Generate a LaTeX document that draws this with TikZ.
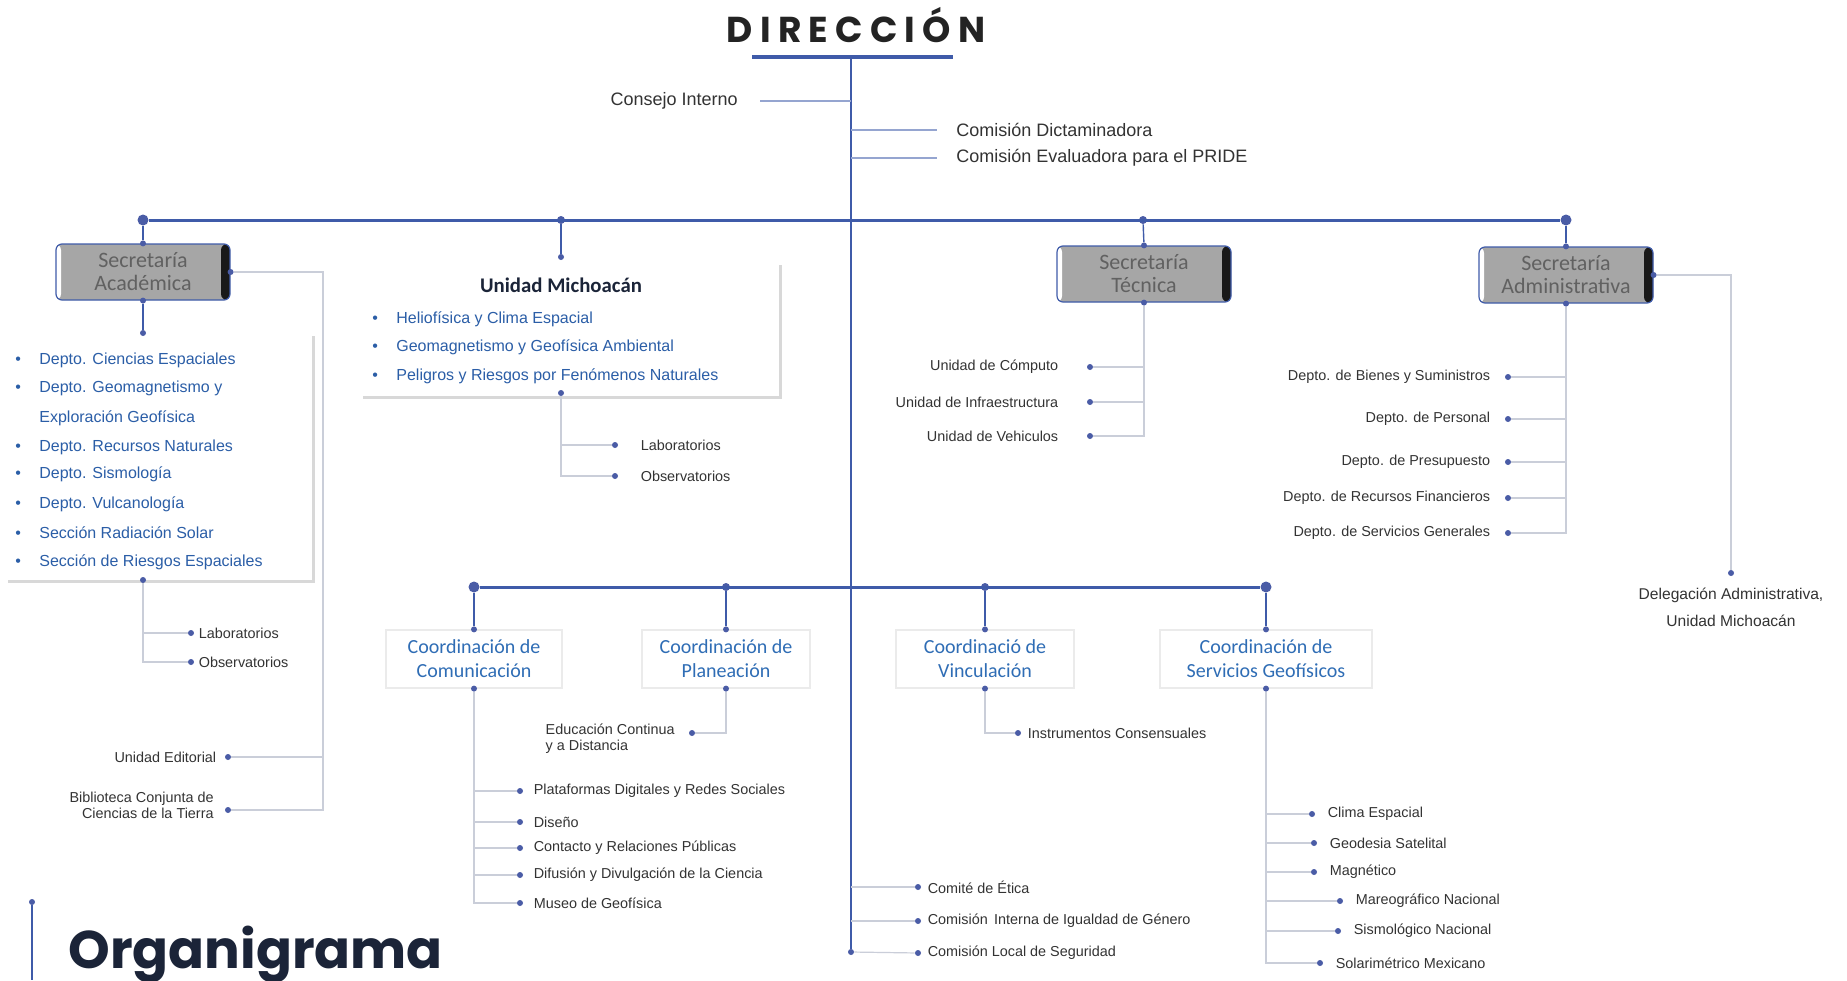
\documentclass[tikz,border=0pt]{standalone}
\usepackage{fontspec}
\setmainfont{Liberation Sans}
\newfontfamily\headfont{Carlito}
\newfontfamily\dirfont{Poppins}[LetterSpace=20]
\newfontfamily\orgfont{Poppins}
\usetikzlibrary{positioning,shadows}

\definecolor{lineblue}{HTML}{3F5BA9}
\definecolor{dotblue}{HTML}{4A5CA6}
\definecolor{paleline}{HTML}{CACED9}
\definecolor{itemblue}{HTML}{2B5EA7}
\definecolor{headblue}{HTML}{2F6DB5}
\definecolor{navy}{HTML}{1B2438}
\definecolor{titlegray}{HTML}{232323}
\definecolor{labelgray}{HTML}{333333}
\definecolor{boxgray}{HTML}{A6A6A6}

\newcommand{\bul}{\makebox[12pt][l]{\textbullet}}

\begin{document}
\begin{tikzpicture}[x=0.5pt, y=-0.5pt, inner sep=1pt,
    mainline/.style={lineblue, line width=1.5pt},
    spine/.style={lineblue, line width=0.9pt},
    stem/.style={lineblue, line width=0.7pt},
    branch/.style={lineblue!55, line width=0.6pt},
    subline/.style={paleline, line width=0.6pt},
    dot/.style={circle, fill=dotblue, inner sep=0pt, minimum size=3pt},
    bigdot/.style={circle, fill=dotblue, inner sep=0pt, minimum size=5.5pt},
    lbl/.style={text=labelgray, font=\fontsize{7.2}{8}\selectfont},
    biglbl/.style={text=labelgray, font=\fontsize{9}{10}\selectfont},
    itm/.style={text=itemblue, font=\fontsize{8}{9}\selectfont, anchor=west},
    secbox/.style={rectangle, rounded corners=3pt, draw=lineblue, line width=0.6pt,
        fill=boxgray, minimum width=87pt, minimum height=28pt, align=center,
        text=black!62, font=\headfont\fontsize{11}{11.5}\selectfont,
        path picture={
          \fill[black!90] ([xshift=-4.5pt]path picture bounding box.north east) rectangle (path picture bounding box.south east);
          \fill[white] (path picture bounding box.north west) rectangle ([xshift=2.5pt]path picture bounding box.south west);
        }},
    coordbox/.style={rectangle, draw=black!8, line width=0.6pt, fill=white,
        minimum height=29pt, align=center, text=headblue,
        font=\headfont\fontsize{10}{12}\selectfont},
    panel/.style={fill=white, inner sep=0pt,
        drop shadow={shadow xshift=1.3pt, shadow yshift=-1.3pt, fill=black!30, opacity=0.5}}
  ]
    \useasboundingbox[fill=white] (0,0) rectangle (1847,980);

    % title
    \node[font=\dirfont\bfseries\fontsize{18}{20}\selectfont, text=titlegray, anchor=base] (dir) at (856,42) {DIRECCIÓN};
    \coordinate (ul) at (752,57);
    \coordinate (ur) at (953,57);
    \draw[lineblue, line width=2.2pt] (ul) -- (ur);
    \coordinate (spinetop) at (851,57);
    \node[dot] (spbot) at (851,952) {};
    \draw[spine] (spinetop) -- (spbot);

    \node[biglbl, anchor=east] (consejo) at (740,101) {Consejo Interno};
    \node[biglbl, anchor=west] (dictam) at (954,130) {Comisión Dictaminadora};
    \node[biglbl, anchor=west] (pride) at (954,158) {Comisión Evaluadora para el PRIDE};
    \draw[branch] ([xshift=10pt]consejo.east) -- (consejo.east -| spinetop);
    \draw[branch] (dictam.west -| spinetop) -- ([xshift=-8.5pt]dictam.west);
    \draw[branch] (pride.west -| spinetop) -- ([xshift=-8.5pt]pride.west);

    % upper bar
    \node[bigdot] (tb1) at (143,220) {};
    \node[dot, minimum size=4pt] (tb2) at (561,220) {};
    \node[dot, minimum size=4pt] (tb3) at (1143,220) {};
    \node[bigdot] (tb4) at (1566,220) {};
    \draw[mainline] (tb1) -- (tb4);

    % Secretaria Academica
    \node[secbox] (acad) at (143,272) {Secretaría\\Académica};
    \node[dot] (acadn) at (acad.north) {};
    \node[dot] (acads) at (acad.south) {};
    \node[dot] (acade) at (acad.east) {};
    \draw[stem] (tb1) -- (acadn);

    \node[panel, minimum width=153.5pt, minimum height=123.5pt, anchor=north west] (acadlist) at (5,333) {};
    \node[dot] (acadtop) at (143,333) {};
    \node[dot] (acadbot) at (143,580) {};
    \draw[stem] (acads) -- (acadtop);
    \node[itm] (ac1) at (13,360) {\bul Depto. Ciencias Espaciales};
    \node[itm] (ac2) at (13,388) {\bul Depto. Geomagnetismo y};
    \node[itm] (ac2b) at (13,418) {\hspace*{12pt}Exploración Geofísica};
    \node[itm] (ac3) at (13,447) {\bul Depto. Recursos Naturales};
    \node[itm] (ac4) at (13,474) {\bul Depto. Sismología};
    \node[itm] (ac5) at (13,504) {\bul Depto. Vulcanología};
    \node[itm] (ac6) at (13,533) {\bul Sección Radiación Solar};
    \node[itm] (ac7) at (13,562) {\bul Sección de Riesgos Espaciales};

    \node[dot] (alabd) at (191,633) {};
    \node[dot] (aobsd) at (191,662) {};
    \node[lbl, right=1pt of alabd] (alab) {Laboratorios};
    \node[lbl, right=1pt of aobsd] (aobs) {Observatorios};
    \draw[subline] (acadbot) |- (alabd);
    \draw[subline] (acadbot) |- (aobsd);

    \node[dot] (editd) at (228,757) {};
    \node[dot] (bibd) at (228,810) {};
    \node[lbl, left=3pt of editd] (edit) {Unidad Editorial};
    \node[lbl, anchor=east, align=right] (bib) at (216,805) {Biblioteca Conjunta de\\Ciencias de la Tierra};
    \coordinate (acadr) at (323,810);
    \draw[subline] (acade) -| (acadr) -- (bibd);
    \draw[subline] (editd) -- (editd -| acadr);

    % Unidad Michoacan
    \node[panel, minimum width=209.5pt, minimum height=67pt, anchor=north west] (michlist) at (360,262) {};
    \node[dot] (michn) at (561,257) {};
    \draw[stem] (tb2) -- (michn);
    \node[font=\headfont\bfseries\fontsize{10.4}{12}\selectfont, text=navy] (michtit) at (561,285) {Unidad Michoacán};
    \node[itm] (mi1) at (370,319) {\bul Heliofísica y Clima Espacial};
    \node[itm] (mi2) at (370,347) {\bul Geomagnetismo y Geofísica Ambiental};
    \node[itm] (mi3) at (370,376) {\bul Peligros y Riesgos por Fenómenos Naturales};
    \node[dot] (michs) at (561,393) {};
    \node[dot] (mlabd) at (615,445) {};
    \node[dot] (mobsd) at (615,476) {};
    \node[lbl, right=10pt of mlabd] (mlab) {Laboratorios};
    \node[lbl, right=10pt of mobsd] (mobs) {Observatorios};
    \draw[subline] (michs) |- (mlabd);
    \draw[subline] (michs) |- (mobsd);

    % Secretaria Tecnica
    \node[secbox] (tec) at (1144,274) {Secretaría\\Técnica};
    \node[dot] (tecn) at (tec.north) {};
    \node[dot] (tecs) at (tec.south) {};
    \draw[stem] (tb3) -- (tecn);
    \node[dot] (cmpd) at (1090,367) {};
    \node[dot] (infd) at (1090,402) {};
    \node[dot] (vehd) at (1090,436) {};
    \node[lbl, left=13pt of cmpd] (cmp) {Unidad de Cómputo};
    \node[lbl, left=13pt of infd] (inf) {Unidad de Infraestructura};
    \node[lbl, left=13pt of vehd] (veh) {Unidad de Vehiculos};
    \draw[subline] (tecs) |- (cmpd);
    \draw[subline] (tecs) |- (infd);
    \draw[subline] (tecs) |- (vehd);

    % Secretaria Administrativa
    \node[secbox] (adm) at (1566,275) {Secretaría\\Administrativa};
    \node[dot] (admn) at (adm.north) {};
    \node[dot] (adms) at (adm.south) {};
    \node[dot] (adme) at (adm.east) {};
    \draw[stem] (tb4) -- (admn);
    \node[dot] (biend) at (1508,377) {};
    \node[dot] (persd) at (1508,419) {};
    \node[dot] (presd) at (1508,462) {};
    \node[dot] (recd) at (1508,498) {};
    \node[dot] (servgd) at (1508,533) {};
    \node[lbl, left=6pt of biend] (bien) {Depto. de Bienes y Suministros};
    \node[lbl, left=6pt of persd] (pers) {Depto. de Personal};
    \node[lbl, left=6pt of presd] (pres) {Depto. de Presupuesto};
    \node[lbl, left=6pt of recd] (rec) {Depto. de Recursos Financieros};
    \node[lbl, left=6pt of servgd] (servg) {Depto. de Servicios Generales};
    \draw[subline] (adms) |- (biend);
    \draw[subline] (adms) |- (persd);
    \draw[subline] (adms) |- (presd);
    \draw[subline] (adms) |- (recd);
    \draw[subline] (adms) |- (servgd);
    \node[dot] (deld) at (1731,573) {};
    \node[text=labelgray, font=\fontsize{7.8}{13.5}\selectfont, align=center, anchor=north] (del) at (1731,586) {Delegación Administrativa,\\Unidad Michoacán};
    \draw[subline] (adme) -| (deld);

    % lower bar
    \node[bigdot] (lb1) at (474,587) {};
    \node[dot, minimum size=4pt] (lb2) at (726,587) {};
    \node[dot, minimum size=4pt] (lb3) at (985,587) {};
    \node[bigdot] (lb4) at (1266,587) {};
    \draw[mainline] (lb1) -- (lb4);

    \node[coordbox, minimum width=88pt] (comu) at (474,659) {Coordinación de\\Comunicación};
    \node[coordbox, minimum width=84pt] (plan) at (726,659) {Coordinación de\\Planeación};
    \node[coordbox, minimum width=89pt] (vinc) at (985,659) {Coordinació de\\Vinculación};
    \node[coordbox, minimum width=106pt] (serv) at (1266,659) {Coordinación de\\Servicios Geofísicos};
    \node[dot] (comun) at (comu.north) {};
    \node[dot] (comus) at (comu.south) {};
    \node[dot] (plann) at (plan.north) {};
    \node[dot] (plans) at (plan.south) {};
    \node[dot] (vincn) at (vinc.north) {};
    \node[dot] (vincs) at (vinc.south) {};
    \node[dot] (servn) at (serv.north) {};
    \node[dot] (servs) at (serv.south) {};
    \draw[stem] (lb1) -- (comun);
    \draw[stem] (lb2) -- (plann);
    \draw[stem] (lb3) -- (vincn);
    \draw[stem] (lb4) -- (servn);

    % Comunicacion
    \node[dot] (platd) at (520,791) {};
    \node[dot] (disd) at (520,822) {};
    \node[dot] (contd) at (520,848) {};
    \node[dot] (difd) at (520,875) {};
    \node[dot] (musd) at (520,903) {};
    \node[lbl, right=4pt of platd] (plat) {Plataformas Digitales y Redes Sociales};
    \node[lbl, right=4pt of disd] (dis) {Diseño};
    \node[lbl, right=4pt of contd] (cont) {Contacto y Relaciones Públicas};
    \node[lbl, right=4pt of difd] (dif) {Difusión y Divulgación de la Ciencia};
    \node[lbl, right=4pt of musd] (mus) {Museo de Geofísica};
    \draw[subline] (comus) |- (platd);
    \draw[subline] (comus) |- (disd);
    \draw[subline] (comus) |- (contd);
    \draw[subline] (comus) |- (difd);
    \draw[subline] (comus) |- (musd);

    % Planeacion
    \node[dot] (edud) at (692,733) {};
    \node[lbl, anchor=east, align=left] (edu) at (677,739) {Educación Continua\\y a Distancia};
    \draw[subline] (plans) |- (edud);

    % Vinculacion
    \node[dot] (insd) at (1018,733) {};
    \node[lbl, right=2pt of insd] (ins) {Instrumentos Consensuales};
    \draw[subline] (vincs) |- (insd);

    % Servicios Geofisicos
    \node[dot] (climd) at (1312,814) {};
    \node[dot] (geod) at (1314,843) {};
    \node[dot] (magd) at (1314,872) {};
    \node[dot] (mared) at (1340,901) {};
    \node[dot] (sismd) at (1338,931) {};
    \node[dot] (solard) at (1320,963) {};
    \node[lbl, right=5pt of climd] (clim) {Clima Espacial};
    \node[lbl, right=5pt of geod] (geo) {Geodesia Satelital};
    \node[lbl, right=5pt of magd] (mag) {Magnético};
    \node[lbl, right=5pt of mared] (mare) {Mareográfico Nacional};
    \node[lbl, right=5pt of sismd] (sism) {Sismológico Nacional};
    \node[lbl, right=5pt of solard] (solar) {Solarimétrico Mexicano};
    \draw[subline] (servs) |- (climd);
    \draw[subline] (servs) |- (geod);
    \draw[subline] (servs) |- (magd);
    \draw[subline] (servs) |- (mared);
    \draw[subline] (servs) |- (sismd);
    \draw[subline] (servs) |- (solard);

    % comites on the spine
    \node[dot] (etid) at (918,887) {};
    \node[dot] (igud) at (918,921) {};
    \node[dot] (segd) at (918,953) {};
    \node[lbl, right=2pt of etid] (eti) {Comité de Ética};
    \node[lbl, right=2pt of igud] (igu) {Comisión\, Interna de Igualdad de Género};
    \node[lbl, right=2pt of segd] (seg) {Comisión Local de Seguridad};
    \draw[subline] (etid -| spinetop) -- (etid);
    \draw[subline] (igud -| spinetop) -- (igud);
    \draw[subline] (spbot) -- (segd);

    % footer
    \node[dot] (orgd) at (32,902) {};
    \coordinate (orgb) at (32,980);
    \draw[stem] (orgd) -- (orgb);
    \node[font=\orgfont\bfseries\fontsize{26.5}{30}\selectfont, text=navy, anchor=base west, inner sep=0pt] (org) at (68,968) {Organigrama};
\end{tikzpicture}
\end{document}
